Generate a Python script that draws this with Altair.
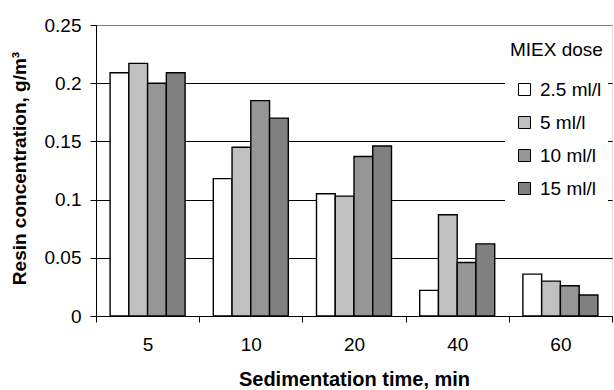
import altair as alt
import pandas as pd

times = ["5", "10", "20", "40", "60"]
doses = ["2.5 ml/l", "5 ml/l", "10 ml/l", "15 ml/l"]
dose_colors = ["#FFFFFF", "#C0C0C0", "#969696", "#808080"]
values = {
    "2.5 ml/l": [0.209, 0.118, 0.105, 0.022, 0.036],
    "5 ml/l":   [0.217, 0.145, 0.103, 0.087, 0.030],
    "10 ml/l":  [0.200, 0.185, 0.137, 0.046, 0.026],
    "15 ml/l":  [0.209, 0.170, 0.146, 0.062, 0.018],
}
y_ticks = [0, 0.05, 0.1, 0.15, 0.2, 0.25]

rows = []
for d in doses:
    for t, v in zip(times, values[d]):
        rows.append({"time": t, "dose": d, "conc": v})
df = pd.DataFrame(rows)

FONT = "Liberation Sans"

chart = alt.Chart(df).mark_bar(stroke="black", strokeWidth=1.4).encode(
    x=alt.X("time:N", sort=times,
            scale=alt.Scale(paddingInner=0, paddingOuter=0),
            axis=alt.Axis(title="Sedimentation time, min", labelAngle=0,
                          tickBand="extent", tickSize=6, tickColor="black",
                          domainColor="black", labelPadding=13,
                          labelFontSize=19, labelFont=FONT, labelColor="black",
                          titleFont=FONT, titleFontSize=20, titleFontWeight="bold",
                          titleColor="black", titleY=63, titleBaseline="middle",
                          grid=False)),
    xOffset=alt.XOffset("dose:N", sort=doses,
                        scale=alt.Scale(paddingInner=0, paddingOuter=0.752)),
    y=alt.Y("conc:Q",
            scale=alt.Scale(domain=[0, 0.25], nice=False, zero=True),
            axis=alt.Axis(title="Resin concentration, g/m³", values=y_ticks,
                          format=".2~f", tickSize=6, tickColor="black",
                          domainColor="black", labelPadding=9,
                          labelFontSize=19, labelFont=FONT, labelColor="black",
                          grid=True,
                          gridColor={"condition": {"test": "datum.value >= 0.25", "value": "#808080"},
                                     "value": "#000000"},
                          gridOpacity=1, gridWidth=1,
                          titleFont=FONT, titleFontSize=19, titleFontWeight="bold",
                          titleColor="black", titleAngle=270, titleX=-77, titleY=143,
                          titleAlign="center", titleBaseline="middle")),
    fill=alt.Fill("dose:N", sort=doses,
                  scale=alt.Scale(domain=doses, range=dose_colors),
                  legend=alt.Legend(title="MIEX dose", orient="none",
                                    legendX=409, legendY=11,
                                    fillColor="white", padding=5,
                                    symbolType="square", symbolSize=144,
                                    symbolStrokeColor="black", symbolStrokeWidth=1,
                                    symbolOffset=5, labelOffset=6,
                                    labelFont=FONT, labelFontSize=19, labelColor="black",
                                    titleFont=FONT, titleFontSize=19, titleFontWeight="normal",
                                    titleColor="black", titlePadding=20, rowPadding=13,
                                    labelLimit=200, titleLimit=200)),
).properties(
    width=516, height=291,
    autosize=alt.AutoSizeParams(type="none"),
    padding={"left": 96, "top": 25, "right": 2, "bottom": 74},
).configure_view(
    stroke="#808080", strokeWidth=1
).configure(background="white")

chart.save("out.html", embed_options={"renderer": "svg", "actions": False})
